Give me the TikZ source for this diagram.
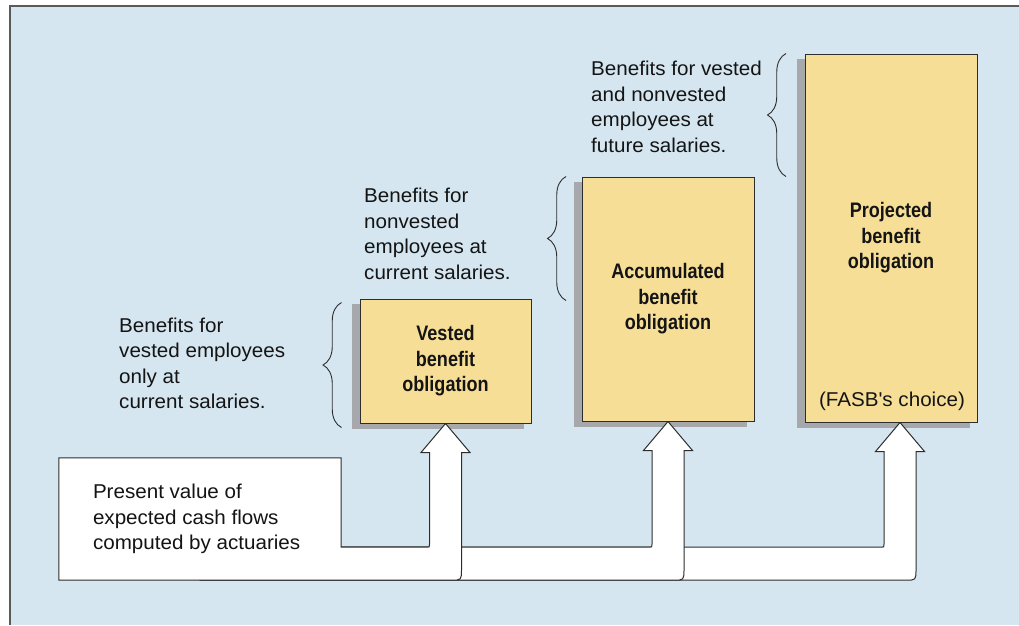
\documentclass[tikz,border=0pt]{standalone}
\usepackage{fontspec}
\setmainfont[FakeStretch=1.03]{Liberation Sans}
\newfontfamily\condbold[FakeStretch=0.86]{Liberation Sans Bold}
\usetikzlibrary{calc,decorations.pathreplacing}
\definecolor{bgblue}{RGB}{213,230,240}
\definecolor{boxyellow}{RGB}{246,222,151}
\definecolor{shadowgray}{RGB}{166,168,171}
\definecolor{linegray}{RGB}{45,45,45}
\definecolor{framegray}{RGB}{90,90,90}
\definecolor{textcol}{RGB}{20,20,20}
\pgfdeclarelayer{bglayer}
\pgfdeclarelayer{shadowlayer}
\pgfdeclarelayer{arrowlayer}
\pgfsetlayers{bglayer,shadowlayer,arrowlayer,main}
\newcommand\arrowpart[1]{%
 -- ($(#1 |- bt)+(-19,0)$) .. controls ($(#1 |- bt)+(-16,0)$) .. ($(#1 |- bt)+(-16,-3)$)
 -- ($(#1)+(-16,29)$) -- ($(#1)+(-24.5,29)$) -- (#1) -- ($(#1)+(24.5,29)$) -- ($(#1)+(16,29)$)
 -- ($(#1 |- pv.south)+(16,-11)$) .. controls ($(#1 |- pv.south)+(16,0)$) .. ($(#1 |- pv.south)+(5,0)$)}
\begin{document}
\begin{tikzpicture}[x=1pt,y=-1pt,
  obox/.style={draw=linegray, line width=1pt, fill=boxyellow, inner sep=0pt, align=center,
    text=textcol, font=\condbold\fontsize{21}{25.5}\selectfont},
  ltext/.style={inner sep=0pt, align=left, text=textcol, font=\fontsize{20}{25.5}\selectfont},
  arrowshape/.style={fill=white, draw=linegray, line width=1pt, line join=miter},
  bracestyle/.style={draw=linegray, line width=0.9pt, decorate, decoration={brace, amplitude=18.5pt}}]
\useasboundingbox (0,0) rectangle (1019,625);
% boxes
\node[obox, minimum width=171pt, minimum height=124pt] (vbo) at (445.5,361) {Vested\\benefit\\obligation};
\node[obox, minimum width=172pt, minimum height=244pt] (abo) at (668,299) {Accumulated\\benefit\\obligation};
\node[obox, minimum width=172pt, minimum height=368pt] (pbo) at (891,238) {Projected\\benefit\\obligation};
\node[ltext, anchor=base] (fasb) at (892,406) {(FASB\textquotesingle s choice)};
% present value box
\node[minimum width=282pt, minimum height=122pt, inner sep=0pt] (pv) at (200,519) {};
\node[ltext, anchor=west] (pvtext) at ($(pv.west)+(34,0)$) {Present value of\\expected cash flows\\computed by actuaries};
% side texts
\node[ltext, anchor=north west] (t1) at (119,317.5) {Benefits for\\vested employees\\only at\\current salaries.};
\node[ltext, anchor=north west] (t2) at (364,188) {Benefits for\\nonvested\\employees at\\current salaries.};
\node[ltext, anchor=north west] (t3) at (591,61) {Benefits for vested\\and nonvested\\employees at\\future salaries.};
% braces
\draw[bracestyle] ($(vbo.south west)+(-18,4)$) -- ($(vbo.north west)+(-18,4)$);
\draw[bracestyle] ($(abo.west |- vbo.north)+(-15.5,2)$) -- ($(abo.north west)+(-15.5,0)$);
\draw[bracestyle] ($(pbo.west |- abo.north)+(-18.5,0)$) -- ($(pbo.north west)+(-18.5,0)$);
% arrows
\coordinate (bt) at ($(pv.south)+(0,-33)$);
\coordinate (tv) at (vbo.south);
\coordinate (ta) at (abo.south);
\coordinate (tp) at ($(pbo.south)+(9,0)$);
\begin{pgfonlayer}{arrowlayer}
\draw[arrowshape] (bt) \arrowpart{tp} -- (pv.south) -- cycle;
\draw[arrowshape] (bt) \arrowpart{ta} -- (pv.south) -- cycle;
\draw[arrowshape] (pv.north west) -- (pv.north east) -- (pv.east |- bt) \arrowpart{tv} -- (pv.south west) -- cycle;
\end{pgfonlayer}
% shadows
\begin{pgfonlayer}{shadowlayer}
\fill[shadowgray] ($(vbo.south west)+(-8,5)$) rectangle ($(vbo.north east)+(-8,5)$);
\fill[shadowgray] ($(abo.south west)+(-8,5)$) rectangle ($(abo.north east)+(-8,5)$);
\fill[shadowgray] ($(pbo.south west)+(-8,5)$) rectangle ($(pbo.north east)+(-8,5)$);
\end{pgfonlayer}
% background and frame
\begin{pgfonlayer}{bglayer}
\fill[white] (0,0) rectangle (1019,625);
\fill[bgblue] (10,6) rectangle (1019,625);
\draw[framegray, line width=1.5pt] (10,625) -- (10,6) -- (1019,6);
\end{pgfonlayer}
\end{tikzpicture}
\end{document}
